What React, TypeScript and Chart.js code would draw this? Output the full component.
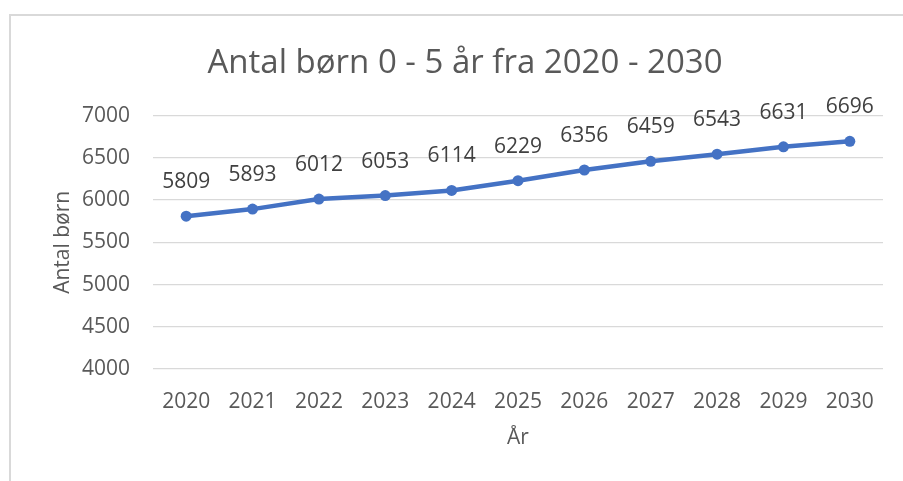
import React, { useEffect, useRef } from "react";
import { Chart, registerables } from "chart.js";

Chart.register(...registerables);

const years = ["2020", "2021", "2022", "2023", "2024", "2025", "2026", "2027", "2028", "2029", "2030"];
const children = [5809, 5893, 6012, 6053, 6114, 6229, 6356, 6459, 6543, 6631, 6696];
const titleText = "Antal børn 0 - 5 år fra 2020 - 2030";
const yTitle = "Antal børn";
const xTitle = "År";

const FONT = "'Open Sans', 'Noto Sans', sans-serif";

const frame = {
  id: "frame",
  beforeDraw(chart: any) {
    const ctx = chart.ctx;
    ctx.save();
    ctx.fillStyle = "#ffffff";
    ctx.fillRect(0, 0, chart.width, chart.height);
    ctx.strokeStyle = "#d9d9d9";
    ctx.lineWidth = 2;
    ctx.beginPath();
    ctx.moveTo(10, chart.height);
    ctx.lineTo(10, 15);
    ctx.lineTo(chart.width, 15);
    ctx.stroke();
    ctx.restore();
  },
};

const dataLabels = {
  id: "dataLabels",
  afterDatasetsDraw(chart: any) {
    const ctx = chart.ctx;
    const meta = chart.getDatasetMeta(0);
    const ds = chart.data.datasets[0];
    ctx.save();
    ctx.font = `21px ${FONT}`;
    ctx.fillStyle = "#404040";
    ctx.textAlign = "center";
    ctx.textBaseline = "middle";
    meta.data.forEach((pt: any, i: number) => {
      ctx.fillText(String(ds.data[i]), pt.x, pt.y - 34);
    });
    ctx.restore();
  },
};

export default function App() {
  const ref = useRef<HTMLCanvasElement>(null);
  useEffect(() => {
    if (!ref.current) return;
    const chart = new Chart(ref.current, {
      type: "line",
      data: {
        labels: years,
        datasets: [
          {
            data: children,
            borderColor: "#4472C4",
            backgroundColor: "#4472C4",
            borderWidth: 4.5,
            pointRadius: 5.5,
            pointHoverRadius: 5.5,
            pointBorderWidth: 0,
            tension: 0,
          },
        ],
      },
      options: {
        responsive: false,
        animation: false,
        layout: { padding: { left: 47, right: 20, top: 0, bottom: 27 } },
        plugins: {
          legend: { display: false },
          tooltip: { enabled: false },
          title: {
            display: true,
            text: titleText,
            color: "#595959",
            font: { family: FONT, size: 33, weight: "normal" },
            padding: { top: 44, bottom: 32 },
          },
        },
        scales: {
          x: {
            offset: true,
            grid: { display: false, drawTicks: false },
            border: { display: false },
            ticks: { color: "#595959", font: { family: FONT, size: 21 }, padding: 20, maxRotation: 0 },
            title: { display: true, text: xTitle, color: "#595959", font: { family: FONT, size: 21 }, padding: 3 },
            afterFit(scale: any) {
              scale.height = 85;
            },
          },
          y: {
            min: 4000,
            max: 7000,
            ticks: {
              stepSize: 500,
              color: "#595959",
              font: { family: FONT, size: 21 },
              padding: 23,
              callback: (v: any) => String(v),
            },
            grid: { color: "#d9d9d9", lineWidth: 1.3, drawTicks: false },
            border: { display: false },
            title: { display: true, text: yTitle, color: "#595959", font: { family: FONT, size: 21 }, padding: 3 },
            afterFit(scale: any) {
              scale.width = 106;
            },
          },
        },
      },
      plugins: [frame, dataLabels],
    });
    return () => chart.destroy();
  }, []);
  return (
    <canvas
      ref={ref}
      width={903}
      height={481}
      style={{ position: "fixed", left: 0, top: 0, width: 903, height: 481 }}
    />
  );
}
